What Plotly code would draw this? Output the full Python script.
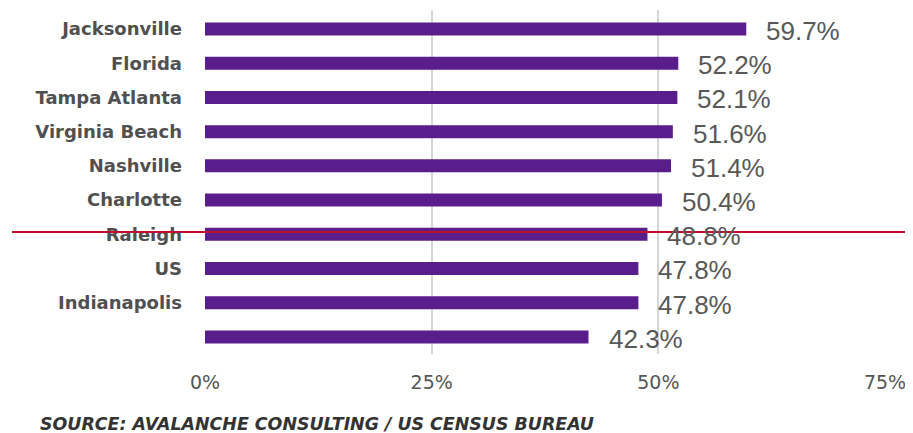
import plotly.graph_objects as go

categories = ["Jacksonville", "Florida", "Tampa Atlanta", "Virginia Beach", "Nashville",
              "Charlotte", "Raleigh", "US", "Indianapolis", " "]
values = [59.7, 52.2, 52.1, 51.6, 51.4, 50.4, 48.8, 47.8, 47.8, 42.3]
tick_vals = [0, 25, 50, 75]
tick_text = ["0%", "25%", "50%", "75%"]
source_text = "SOURCE: AVALANCHE CONSULTING / US CENSUS BUREAU"

# page body has an 8px margin, so the figure is drawn 8px in from the window's top-left
W, H = 905, 425
L, R, T, B = 197, 28, 2, 79
PW, PH = W - L - R, H - T - B

fig = go.Figure()
fig.add_trace(go.Bar(
    x=values, y=categories, orientation="h",
    marker=dict(color="#5a1d8c", line=dict(width=0)),
    width=0.38, hoverinfo="skip",
))

for c, v in zip(categories, values):
    fig.add_annotation(x=v, y=c, text=f"{v:.1f}%", showarrow=False,
                       xanchor="left", xshift=18, yshift=-2,
                       font=dict(family="Liberation Sans, Arial", size=26, color="#585858"))

fig.add_annotation(xref="paper", yref="paper", x=(30 - L) / PW, y=0,
                   xanchor="left", yanchor="middle", yshift=-70,
                   text="<b><i>" + source_text + "</i></b>", showarrow=False,
                   font=dict(family="DejaVu Sans", size=17.4, color="#333333"))

fig.add_shape(type="line", xref="paper", yref="paper",
              x0=(4 - L) / PW, x1=(W - L) / PW,
              y0=(346 - 224) / PH, y1=(346 - 224) / PH,
              line=dict(color="#c0102e", width=2))

fig.update_layout(
    width=W, height=H,
    margin=dict(l=L, r=R, t=T, b=B, autoexpand=False),
    paper_bgcolor="white", plot_bgcolor="white",
    showlegend=False,
    xaxis=dict(range=[0, 75], tickvals=tick_vals, ticktext=tick_text,
               showgrid=True, gridcolor="#d6d6d6", gridwidth=1.5,
               zeroline=False, showline=False, ticks="", automargin=False,
               tickfont=dict(family="DejaVu Sans", size=19, color="#555555"),
               ticklabelstandoff=15),
    yaxis=dict(autorange="reversed", showgrid=False, zeroline=False,
               showline=False, ticks="", ticklabelstandoff=22, automargin=False,
               tickfont=dict(family="DejaVu Sans", size=18, color="#505050", weight="bold")),
)

fig.write_html("out.html")
